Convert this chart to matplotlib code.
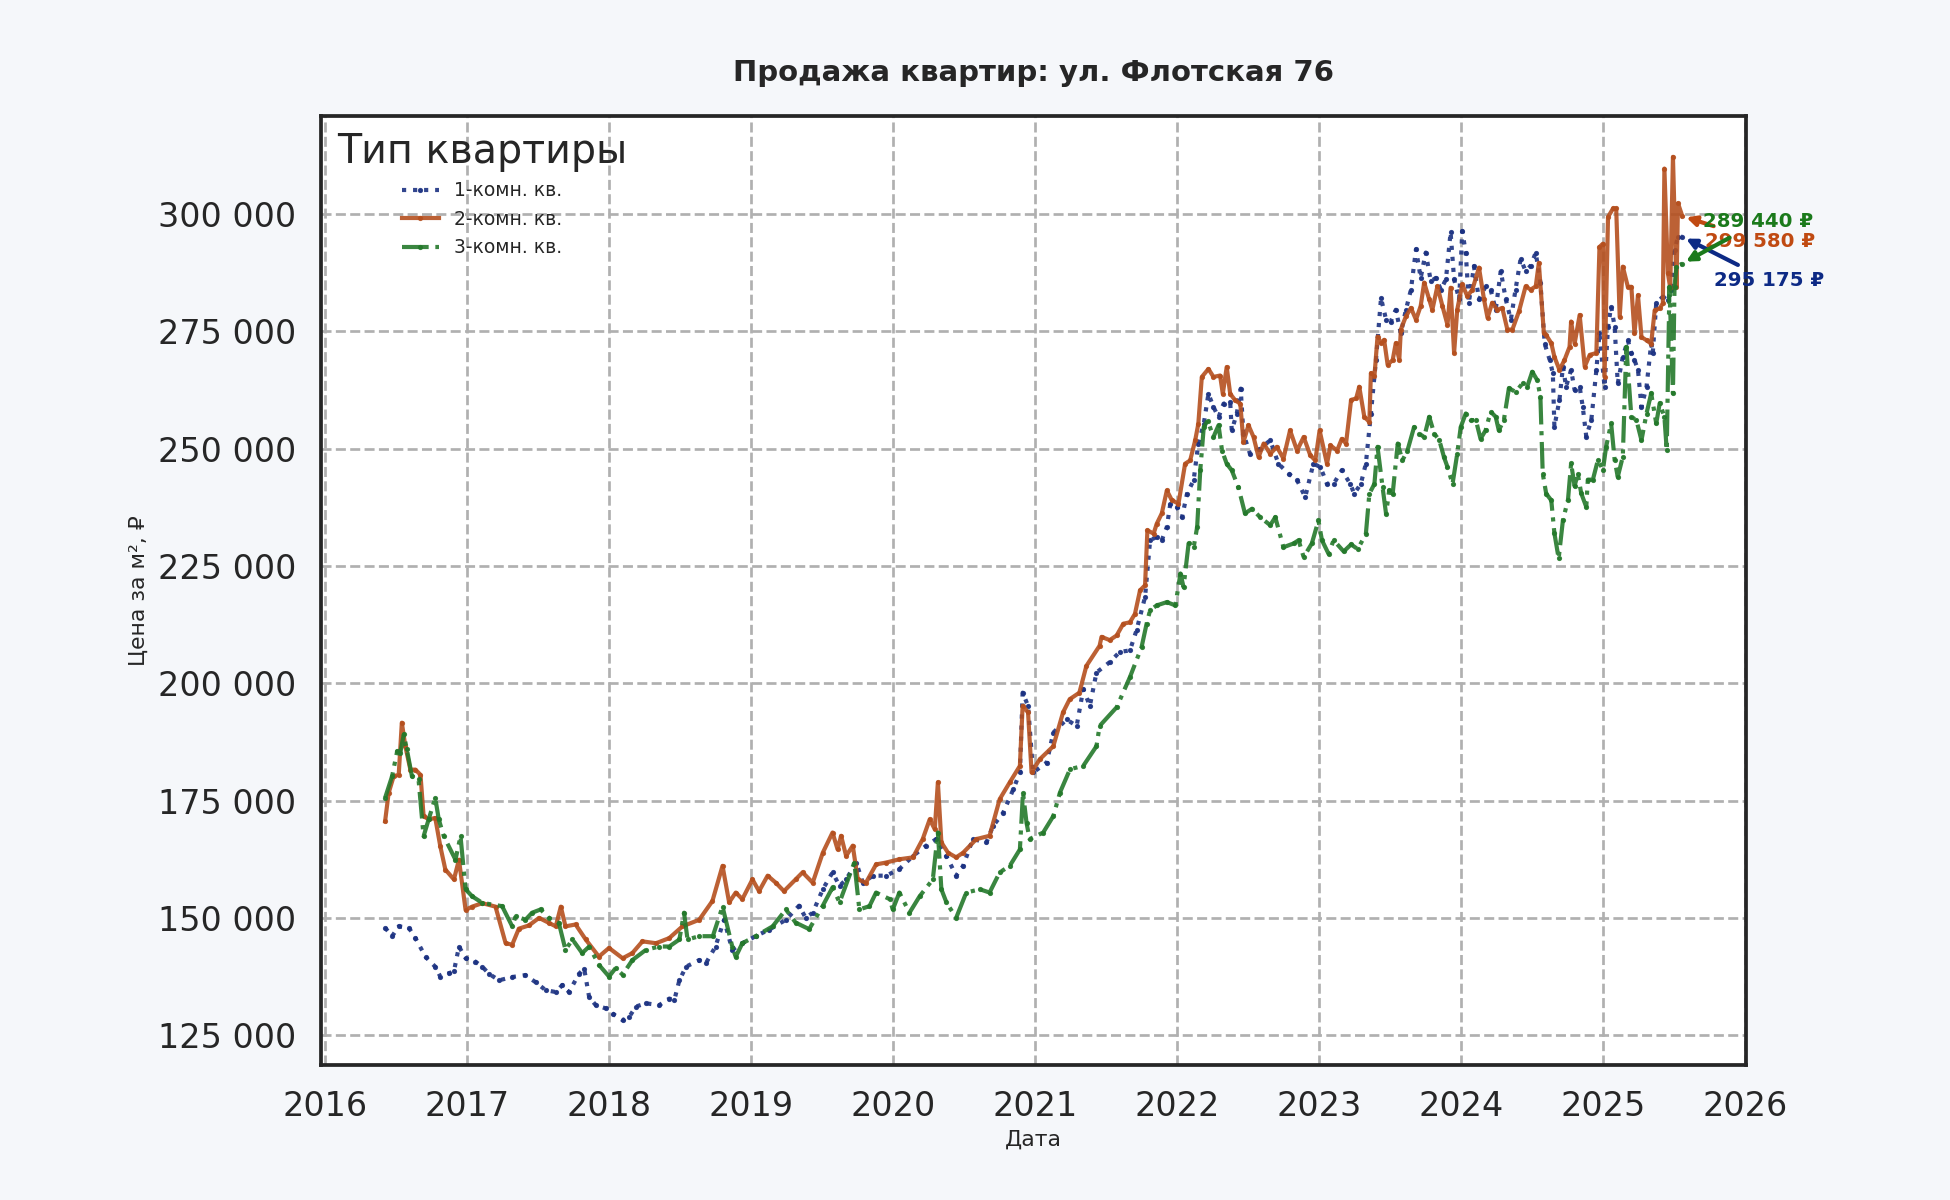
import matplotlib
matplotlib.use("Agg")
import matplotlib.pyplot as plt
import matplotlib.dates as mdates
from matplotlib.ticker import FuncFormatter
import pandas as pd

# 1-комн. кв.
dates_1 = ["2016-06-04", "2016-06-22", "2016-07-09", "2016-08-04", "2016-08-21", "2016-09-16",
           "2016-10-11", "2016-10-24", "2016-11-15", "2016-11-28", "2016-12-11", "2016-12-28",
           "2017-01-22", "2017-02-09", "2017-02-26", "2017-03-24", "2017-04-27", "2017-05-31",
           "2017-06-26", "2017-07-22", "2017-08-17", "2017-09-03", "2017-09-20", "2017-10-16",
           "2017-10-29", "2017-11-11", "2017-11-28", "2017-12-24", "2018-01-10", "2018-02-05",
           "2018-02-22", "2018-03-11", "2018-04-06", "2018-05-10", "2018-06-05", "2018-06-18",
           "2018-07-01", "2018-07-18", "2018-08-21", "2018-09-07", "2018-10-02", "2018-10-24",
           "2018-11-14", "2018-12-10", "2019-01-13", "2019-02-17", "2019-04-01", "2019-05-05",
           "2019-05-22", "2019-06-09", "2019-07-05", "2019-07-30", "2019-08-17", "2019-09-03",
           "2019-09-29", "2019-10-16", "2019-11-11", "2019-12-15", "2020-01-18", "2020-02-22",
           "2020-03-27", "2020-04-22", "2020-05-18", "2020-06-12", "2020-06-30", "2020-07-25",
           "2020-08-29", "2020-09-15", "2020-10-11", "2020-11-06", "2020-11-23", "2020-11-30",
           "2020-12-14", "2020-12-27", "2021-01-31", "2021-02-17", "2021-03-23", "2021-04-18",
           "2021-05-05", "2021-05-22", "2021-06-08", "2021-07-12", "2021-08-07", "2021-09-02",
           "2021-09-19", "2021-10-11", "2021-10-24", "2021-11-10", "2021-11-23", "2021-12-06",
           "2021-12-15", "2022-01-01", "2022-01-14", "2022-01-27", "2022-02-13", "2022-02-25",
           "2022-03-11", "2022-03-23", "2022-04-05", "2022-04-18", "2022-05-01", "2022-05-18",
           "2022-05-22", "2022-06-04", "2022-06-14", "2022-06-21", "2022-07-08", "2022-08-03",
           "2022-08-29", "2022-09-19", "2022-10-15", "2022-11-06", "2022-11-27", "2022-12-18",
           "2023-01-05", "2023-01-22", "2023-02-08", "2023-03-01", "2023-03-23", "2023-04-02",
           "2023-04-19", "2023-05-02", "2023-05-15", "2023-05-28", "2023-06-10", "2023-06-23",
           "2023-07-05", "2023-07-18", "2023-07-31", "2023-08-13", "2023-08-26", "2023-09-08",
           "2023-09-20", "2023-10-03", "2023-10-16", "2023-10-29", "2023-11-11", "2023-11-24",
           "2023-12-06", "2023-12-15", "2023-12-28", "2024-01-05", "2024-01-14", "2024-01-22",
           "2024-02-04", "2024-02-17", "2024-03-05", "2024-03-18", "2024-03-31", "2024-04-13",
           "2024-04-26", "2024-05-09", "2024-05-21", "2024-06-03", "2024-06-16", "2024-06-29",
           "2024-07-12", "2024-07-24", "2024-08-04", "2024-08-17", "2024-08-25", "2024-08-29",
           "2024-09-11", "2024-09-20", "2024-09-28", "2024-10-11", "2024-10-20", "2024-11-02",
           "2024-11-10", "2024-11-19", "2024-12-02", "2024-12-15", "2024-12-23", "2025-01-05",
           "2025-01-14", "2025-01-22", "2025-01-31", "2025-02-08", "2025-02-21", "2025-03-06",
           "2025-03-15", "2025-03-23", "2025-04-01", "2025-04-10", "2025-04-23", "2025-05-05",
           "2025-05-09", "2025-05-18", "2025-06-04", "2025-06-17", "2025-06-25", "2025-07-04",
           "2025-07-13", "2025-07-24"]
price_1 = [147900, 146100, 148200, 147900, 145700, 141700,
           139600, 137500, 138200, 138600, 143900, 141400,
           140700, 139600, 138100, 136700, 137400, 137800,
           136300, 134600, 134200, 135700, 134200, 138100,
           139200, 133100, 131400, 130700, 129600, 128200,
           128900, 131100, 131800, 131400, 132800, 132500,
           136700, 139600, 141000, 140300, 143900, 149600,
           143200, 144600, 146100, 147500, 149600, 152600,
           150000, 151100, 156100, 159700, 156800, 158200,
           161800, 157500, 159000, 159000, 160400, 163200,
           165400, 166800, 163200, 159000, 161100, 166800,
           166100, 169600, 172400, 177400, 181000, 198000,
           195200, 181000, 183100, 189500, 192300, 190900,
           198700, 195200, 202300, 204500, 206700, 207000,
           211300, 218400, 230500, 231200, 230500, 233300,
           238300, 237600, 235400, 240400, 243300, 251100,
           255300, 261700, 258900, 256700, 259600, 259900,
           253900, 257500, 262800, 253200, 248900, 250000,
           251800, 246800, 244700, 243300, 239700, 246800,
           246100, 242500, 242500, 245400, 242500, 240400,
           242500, 246800, 257500, 268900, 282100, 277500,
           277100, 279600, 274600, 279600, 283900, 292500,
           286400, 291800, 285700, 286400, 283900, 286100,
           296100, 286100, 281800, 296400, 291800, 281100,
           288900, 281800, 284600, 283900, 279600, 287900,
           281800, 277500, 283900, 290400, 287900, 289000,
           291800, 285400, 272400, 268900, 266100, 254700,
           260400, 267500, 263200, 266800, 262500, 263200,
           258900, 252600, 256100, 266800, 274600, 263200,
           276000, 280300, 276000, 263900, 269600, 273100,
           270300, 268900, 266800, 258900, 263200, 272400,
           270300, 281000, 282400, 281700, 283900, 292300,
           295200, 295175]

# 2-комн. кв.
dates_2 = ["2016-06-04", "2016-06-13", "2016-06-26", "2016-07-09", "2016-07-17", "2016-07-26",
           "2016-08-08", "2016-08-21", "2016-09-03", "2016-09-11", "2016-09-24", "2016-10-11",
           "2016-10-24", "2016-11-06", "2016-11-28", "2016-12-11", "2016-12-28", "2017-01-14",
           "2017-02-09", "2017-03-15", "2017-04-10", "2017-04-27", "2017-05-14", "2017-06-09",
           "2017-07-05", "2017-07-31", "2017-08-17", "2017-08-30", "2017-09-11", "2017-10-07",
           "2017-11-02", "2017-12-06", "2018-01-01", "2018-02-05", "2018-03-02", "2018-03-28",
           "2018-05-02", "2018-06-05", "2018-07-09", "2018-08-21", "2018-09-24", "2018-10-20",
           "2018-11-06", "2018-11-23", "2018-12-10", "2019-01-05", "2019-01-22", "2019-02-13",
           "2019-03-06", "2019-03-27", "2019-04-26", "2019-05-14", "2019-06-09", "2019-07-05",
           "2019-07-30", "2019-08-12", "2019-08-21", "2019-09-03", "2019-09-20", "2019-10-03",
           "2019-10-24", "2019-11-19", "2019-12-15", "2020-01-18", "2020-02-22", "2020-03-18",
           "2020-04-05", "2020-04-18", "2020-04-26", "2020-05-05", "2020-05-22", "2020-06-12",
           "2020-06-30", "2020-08-03", "2020-09-06", "2020-10-02", "2020-10-28", "2020-11-23",
           "2020-11-30", "2020-12-14", "2020-12-23", "2021-01-13", "2021-02-17", "2021-03-14",
           "2021-03-31", "2021-04-25", "2021-05-13", "2021-06-16", "2021-06-21", "2021-07-12",
           "2021-07-30", "2021-08-16", "2021-09-02", "2021-09-15", "2021-09-28", "2021-10-11",
           "2021-10-17", "2021-11-02", "2021-11-10", "2021-11-23", "2021-12-06", "2021-12-19",
           "2022-01-05", "2022-01-22", "2022-02-04", "2022-02-17", "2022-02-25", "2022-03-06",
           "2022-03-23", "2022-04-05", "2022-04-22", "2022-04-29", "2022-05-09", "2022-05-18",
           "2022-05-31", "2022-06-13", "2022-06-21", "2022-07-04", "2022-07-17", "2022-07-30",
           "2022-08-12", "2022-08-29", "2022-09-15", "2022-10-02", "2022-10-19", "2022-11-06",
           "2022-11-23", "2022-12-10", "2022-12-23", "2023-01-03", "2023-01-22", "2023-01-31",
           "2023-02-17", "2023-03-01", "2023-03-12", "2023-03-25", "2023-04-07", "2023-04-15",
           "2023-04-28", "2023-05-11", "2023-05-15", "2023-05-24", "2023-06-01", "2023-06-10",
           "2023-06-18", "2023-06-27", "2023-07-10", "2023-07-18", "2023-07-27", "2023-07-31",
           "2023-08-13", "2023-08-26", "2023-09-08", "2023-09-20", "2023-09-29", "2023-10-12",
           "2023-10-20", "2023-11-02", "2023-11-15", "2023-11-28", "2023-12-06", "2023-12-15",
           "2023-12-23", "2024-01-05", "2024-01-18", "2024-01-31", "2024-02-17", "2024-03-01",
           "2024-03-10", "2024-03-22", "2024-04-04", "2024-04-17", "2024-04-30", "2024-05-13",
           "2024-05-30", "2024-06-16", "2024-06-29", "2024-07-12", "2024-07-20", "2024-08-02",
           "2024-08-08", "2024-08-21", "2024-08-29", "2024-09-11", "2024-09-24", "2024-10-07",
           "2024-10-11", "2024-10-20", "2024-11-02", "2024-11-15", "2024-11-28", "2024-12-15",
           "2024-12-23", "2025-01-01", "2025-01-05", "2025-01-14", "2025-01-27", "2025-02-04",
           "2025-02-13", "2025-02-21", "2025-03-06", "2025-03-15", "2025-03-23", "2025-04-01",
           "2025-04-10", "2025-04-23", "2025-05-05", "2025-05-14", "2025-05-27", "2025-06-04",
           "2025-06-08", "2025-06-17", "2025-06-23", "2025-06-30", "2025-07-09", "2025-07-13",
           "2025-07-24"]
price_2 = [170600, 176600, 180200, 180500, 191600, 186600,
           181600, 181600, 180500, 171700, 171000, 171300,
           165250, 160300, 158200, 162400, 151700, 152400,
           153150, 152400, 144600, 144300, 147700, 148400,
           150000, 148900, 148200, 152400, 148200, 148600,
           145400, 141750, 143600, 141400, 142500, 145000,
           144600, 145700, 148200, 149600, 153600, 161100,
           153300, 155400, 154000, 158200, 155700, 159000,
           157500, 155700, 158200, 159700, 157500, 163900,
           168200, 164600, 167500, 163200, 165400, 158200,
           157500, 161400, 161800, 162500, 162900, 166800,
           171000, 168900, 178900, 166100, 163900, 162900,
           163900, 166800, 167500, 175300, 178900, 182400,
           195200, 193800, 181000, 183800, 186600, 193800,
           196600, 198000, 203700, 208000, 209900, 209200,
           210200, 212700, 213000, 214800, 219800, 220900,
           232600, 231900, 234000, 236200, 241100, 239000,
           238300, 246800, 247500, 251800, 255300, 265300,
           267000, 265300, 265600, 261700, 267400, 261700,
           260300, 259600, 251400, 255000, 252500, 248200,
           251100, 248900, 250400, 247900, 253900, 249600,
           252500, 248600, 247500, 253900, 246800, 250700,
           249600, 252100, 251100, 260400, 260700, 263200,
           256800, 255700, 266100, 265400, 273900, 272500,
           273200, 267900, 268900, 272500, 268900, 275400,
           278200, 280000, 277500, 280400, 285400, 281800,
           279600, 284600, 280400, 276400, 284300, 270400,
           279600, 285000, 282500, 283900, 288600, 281800,
           277900, 281100, 279600, 280000, 275400, 275400,
           279300, 284600, 283900, 284600, 289600, 274600,
           274200, 272500, 269600, 266800, 268900, 271700,
           277100, 272400, 278500, 267500, 270000, 270400,
           293000, 293700, 265300, 299400, 301200, 301200,
           278100, 288800, 284500, 284500, 274600, 282700,
           273800, 273100, 272400, 279500, 279900, 281000,
           309700, 287400, 284300, 312200, 284500, 302300,
           299580]

# 3-комн. кв.
dates_3 = ["2016-06-04", "2016-06-22", "2016-07-05", "2016-07-13", "2016-07-22", "2016-07-30",
           "2016-08-12", "2016-08-29", "2016-09-11", "2016-09-24", "2016-10-11", "2016-10-20",
           "2016-11-02", "2016-12-02", "2016-12-15", "2016-12-28", "2017-01-14", "2017-02-09",
           "2017-04-01", "2017-04-27", "2017-05-06", "2017-05-31", "2017-06-17", "2017-07-09",
           "2017-07-30", "2017-08-25", "2017-09-11", "2017-09-29", "2017-10-24", "2017-11-11",
           "2017-12-06", "2018-01-01", "2018-01-18", "2018-02-05", "2018-03-02", "2018-04-06",
           "2018-05-10", "2018-06-05", "2018-07-01", "2018-07-13", "2018-07-22", "2018-08-21",
           "2018-09-25", "2018-10-20", "2018-11-14", "2018-11-23", "2018-12-10", "2019-01-13",
           "2019-02-26", "2019-04-01", "2019-04-26", "2019-05-31", "2019-07-05", "2019-07-30",
           "2019-08-17", "2019-09-24", "2019-10-07", "2019-11-02", "2019-11-19", "2019-12-24",
           "2020-01-01", "2020-01-18", "2020-02-13", "2020-03-10", "2020-04-13", "2020-04-26",
           "2020-05-05", "2020-05-18", "2020-06-12", "2020-07-08", "2020-08-12", "2020-09-06",
           "2020-10-02", "2020-10-28", "2020-11-23", "2020-12-01", "2020-12-10", "2020-12-18",
           "2021-01-22", "2021-02-17", "2021-03-06", "2021-04-01", "2021-05-05", "2021-06-08",
           "2021-06-16", "2021-07-30", "2021-09-02", "2021-10-02", "2021-10-15", "2021-10-24",
           "2021-11-10", "2021-12-06", "2021-12-28", "2022-01-10", "2022-01-18", "2022-01-31",
           "2022-02-13", "2022-02-22", "2022-03-02", "2022-03-11", "2022-03-21", "2022-04-05",
           "2022-04-18", "2022-04-27", "2022-05-09", "2022-05-22", "2022-06-08", "2022-06-25",
           "2022-07-13", "2022-08-03", "2022-08-29", "2022-09-11", "2022-10-02", "2022-10-28",
           "2022-11-10", "2022-11-23", "2022-12-14", "2022-12-31", "2023-01-09", "2023-01-26",
           "2023-02-08", "2023-03-06", "2023-03-25", "2023-04-11", "2023-05-02", "2023-05-11",
           "2023-05-24", "2023-06-01", "2023-06-14", "2023-06-23", "2023-07-01", "2023-07-10",
           "2023-07-23", "2023-08-04", "2023-08-17", "2023-09-03", "2023-09-16", "2023-09-29",
           "2023-10-12", "2023-10-25", "2023-11-07", "2023-11-19", "2023-11-28", "2023-12-11",
           "2023-12-23", "2024-01-01", "2024-01-14", "2024-01-27", "2024-02-09", "2024-02-21",
           "2024-03-05", "2024-03-18", "2024-03-31", "2024-04-08", "2024-04-21", "2024-05-04",
           "2024-05-21", "2024-06-08", "2024-06-20", "2024-07-03", "2024-07-16", "2024-07-24",
           "2024-07-30", "2024-08-08", "2024-08-21", "2024-08-29", "2024-09-09", "2024-09-20",
           "2024-10-03", "2024-10-11", "2024-10-20", "2024-10-28", "2024-11-06", "2024-11-19",
           "2024-11-23", "2024-12-06", "2024-12-19", "2025-01-01", "2025-01-09", "2025-01-22",
           "2025-01-31", "2025-02-08", "2025-02-21", "2025-03-02", "2025-03-15", "2025-03-28",
           "2025-04-10", "2025-04-23", "2025-05-05", "2025-05-18", "2025-05-27", "2025-06-08",
           "2025-06-14", "2025-06-21", "2025-06-30", "2025-07-04", "2025-07-09", "2025-07-24"]
price_3 = [175600, 180200, 185500, 185200, 189100, 185900,
           180200, 179500, 167400, 171000, 175600, 171000,
           167400, 162400, 167400, 156100, 154600, 153200,
           152500, 148200, 150400, 149600, 151100, 151800,
           150000, 148900, 143200, 145400, 142500, 143900,
           140000, 137500, 139300, 137900, 141000, 143200,
           143900, 143900, 145400, 151100, 145400, 146100,
           146100, 152400, 143900, 141700, 144600, 146100,
           148200, 151800, 149000, 147600, 152600, 156500,
           153300, 161800, 151800, 152500, 155400, 154000,
           151800, 155400, 151100, 154600, 158200, 168200,
           156100, 153300, 150000, 155400, 156100, 155400,
           159700, 161100, 164600, 176700, 170300, 166800,
           168200, 171700, 176700, 181700, 182400, 186600,
           190900, 194900, 201300, 207700, 212700, 215600,
           216600, 217300, 216600, 223400, 220500, 229800,
           229000, 233300, 245400, 254600, 256000, 252500,
           255000, 249600, 246800, 245400, 241800, 236200,
           237200, 235400, 233700, 235400, 229000, 229800,
           230500, 226900, 229800, 234700, 230500, 227600,
           230500, 228100, 229600, 228600, 231800, 240400,
           242500, 250400, 241800, 236100, 241100, 240400,
           251100, 247500, 249600, 254600, 253200, 252500,
           256800, 253200, 251800, 248200, 246100, 242500,
           248900, 254600, 257500, 256100, 256100, 252100,
           253900, 257900, 256800, 253900, 256100, 262900,
           262100, 263900, 263200, 266400, 264600, 261100,
           244700, 240400, 239000, 232000, 226600, 234800,
           239100, 246900, 242000, 244700, 240500, 237600,
           243400, 243400, 247600, 245500, 250400, 255400,
           247600, 244000, 248300, 271700, 256800, 256100,
           251800, 257500, 261800, 255400, 259700, 256800,
           249700, 284500, 261800, 284500, 288800, 289440]

labels = ["1-комн. кв.", "2-комн. кв.", "3-комн. кв."]
line_colors = ["#1c3282", "#b5501f", "#24792b"]
text_colors = ["#0d2a85", "#c04a12", "#1b7a1b"]
styles = [":", "-", "-."]
offsets = [(15, -21), (11, -12), (10, 20)]

series = [(dates_1, price_1), (dates_2, price_2), (dates_3, price_3)]

fig = plt.figure(figsize=(13, 8), dpi=150, facecolor="#F5F7FA")
ax = fig.add_axes([0.1646, 0.1125, 0.7308, 0.7908])
ax.set_facecolor("white")

for (d, p), lab, c, ls in zip(series, labels, line_colors, styles):
    ax.plot(pd.to_datetime(d), p, linestyle=ls, color=c, lw=2.0, marker=".",
            markersize=3, alpha=0.9, label=lab)

# подписи последних значений
for (d, p), c, tc, off in zip(series, line_colors, text_colors, offsets):
    x_last = pd.to_datetime(d[-1])
    txt = f"{p[-1]:,.0f} ₽".replace(",", " ")
    ax.annotate(txt, xy=(x_last, p[-1]), xytext=off, textcoords="offset points",
                ha="left", va="center", fontsize=9.5, fontweight="bold", color=tc,
                arrowprops=dict(arrowstyle="-|>", color=tc, lw=2))

ax.set_xlim(pd.Timestamp("2015-12-22"), pd.Timestamp("2026-01-04"))
ax.set_ylim(118650, 320900)
ax.xaxis.set_major_locator(mdates.YearLocator())
ax.xaxis.set_major_formatter(mdates.DateFormatter("%Y"))
ax.yaxis.set_major_formatter(FuncFormatter(lambda v, pos: f"{v:,.0f}".replace(",", " ")))

ax.grid(True, linestyle="--", color="#b0b0b0", lw=1.3)
ax.tick_params(axis="both", length=0, pad=12, labelsize=16, labelcolor="#262626")
for s in ax.spines.values():
    s.set_color("#262626")
    s.set_linewidth(1.8)

ax.set_title("Продажа квартир: ул. Флотская 76", fontsize=14, fontweight="bold",
             color="#262626", pad=17)
ax.set_xlabel("Дата", fontsize=10.5, color="#262626", labelpad=3)
ax.set_ylabel("Цена за м², ₽", fontsize=10.5, color="#262626", labelpad=4)

leg = ax.legend(title="Тип квартиры", loc="upper left", frameon=False, fontsize=9,
                title_fontsize=19, borderaxespad=0.45)
leg.get_title().set_color("#262626")
for t in leg.get_texts():
    t.set_color("#262626")

fig.savefig("out.png", dpi=150, facecolor=fig.get_facecolor())
